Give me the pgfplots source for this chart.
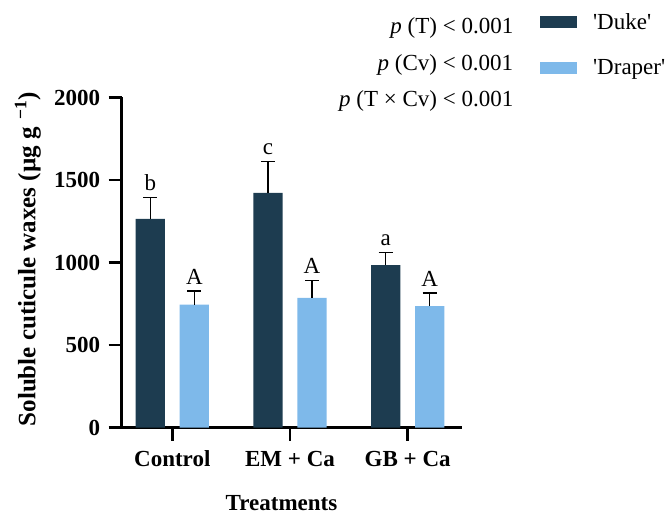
\documentclass[border=0pt]{standalone}
\usepackage{fontspec}
\setmainfont{Liberation Serif}[Ligatures=TeXOff]
\usepackage{pgfplots}
\pgfplotsset{compat=1.18}
\definecolor{duke}{HTML}{1D3C50}
\definecolor{draper}{HTML}{7EB9EA}
\newcommand{\fs}{\fontsize{23}{27}\selectfont}

\begin{document}
\begin{tikzpicture}
\begin{axis}[
  name=ax,
  scale only axis, width=340pt, height=330pt,
  xmin=-0.43, xmax=2.459, ymin=0, ymax=2000,
  axis lines*=left,
  axis line style={line width=2.5pt},
  tick style={line width=2.5pt, black},
  tick align=outside, major tick length=13pt,
  xtick={0,1,2}, xticklabels={Control, EM + Ca, GB + Ca},
  ytick={0,500,1000,1500,2000},
  tick label style={font=\fs\bfseries},
  xticklabel style={yshift=-7pt},
  yticklabel style={xshift=-5pt},
  /pgf/number format/assume math mode=true,
  /pgf/number format/1000 sep={},
  xlabel={\textbf{Treatments}},
  xlabel style={font=\fs, at={(axis description cs:0.47,-0.25)}, anchor=base},
  ylabel={\textbf{Soluble cuticule waxes (µg g\hspace{0.3em}\textsuperscript{−1})}},
  ylabel style={font=\fontsize{25}{29}\selectfont, at={(axis description cs:-0.276,0.51)}, anchor=center},
  clip=false,
  legend style={draw=none, fill=none, at={(axis description cs:1.23,1.262)},
    anchor=north west, font=\fs, row sep=25pt, column sep=14pt, inner sep=0pt},
  legend cell align=left,
]
\addplot[ybar, bar width=29.3pt, fill=duke, draw=none,
  legend image code/.code={\fill[duke] (0pt,-6pt) rectangle (37pt,6pt);},
  error bars/.cd, y dir=plus, y explicit,
  error bar style={line width=1.2pt, black},
  error mark options={rotate=90, mark size=7pt, line width=1.2pt, black}]
  coordinates {(-0.187,1265) +- (0,130) (0.813,1422) +- (0,191) (1.813,984) +- (0,79)};
\addlegendentry{'Duke'}
\addplot[ybar, bar width=29.3pt, fill=draper, draw=none,
  legend image code/.code={\fill[draper] (0pt,-6pt) rectangle (37pt,6pt);},
  error bars/.cd, y dir=plus, y explicit,
  error bar style={line width=1.2pt, black},
  error mark options={rotate=90, mark size=7pt, line width=1.2pt, black}]
  coordinates {(0.187,745) +- (0,82) (1.187,785) +- (0,107) (2.187,736) +- (0,79)};
\addlegendentry{'Draper'}
\addplot[only marks, mark=none, forget plot,
  point meta=explicit symbolic, nodes near coords,
  nodes near coords style={font=\fs, anchor=base, yshift=7pt}]
  coordinates {(-0.187,1395)[b] (0.813,1613)[c] (1.813,1063)[a]
               (0.187,827)[A] (1.187,892)[A] (2.187,815)[A]};
\node[font=\fs, anchor=base east] at (axis description cs:1.162,1.1945) {\textit{p} (T) < 0.001};
\node[font=\fs, anchor=base east] at (axis description cs:1.162,1.083) {\textit{p} (Cv) < 0.001};
\node[font=\fs, anchor=base east] at (axis description cs:1.162,0.972) {\textit{p} (T × Cv) < 0.001};
\end{axis}
\path (ax.south west) ++(-121.7pt,-84.5pt);
\path (ax.south west) ++(548.3pt,427.5pt);
\end{tikzpicture}
\end{document}
